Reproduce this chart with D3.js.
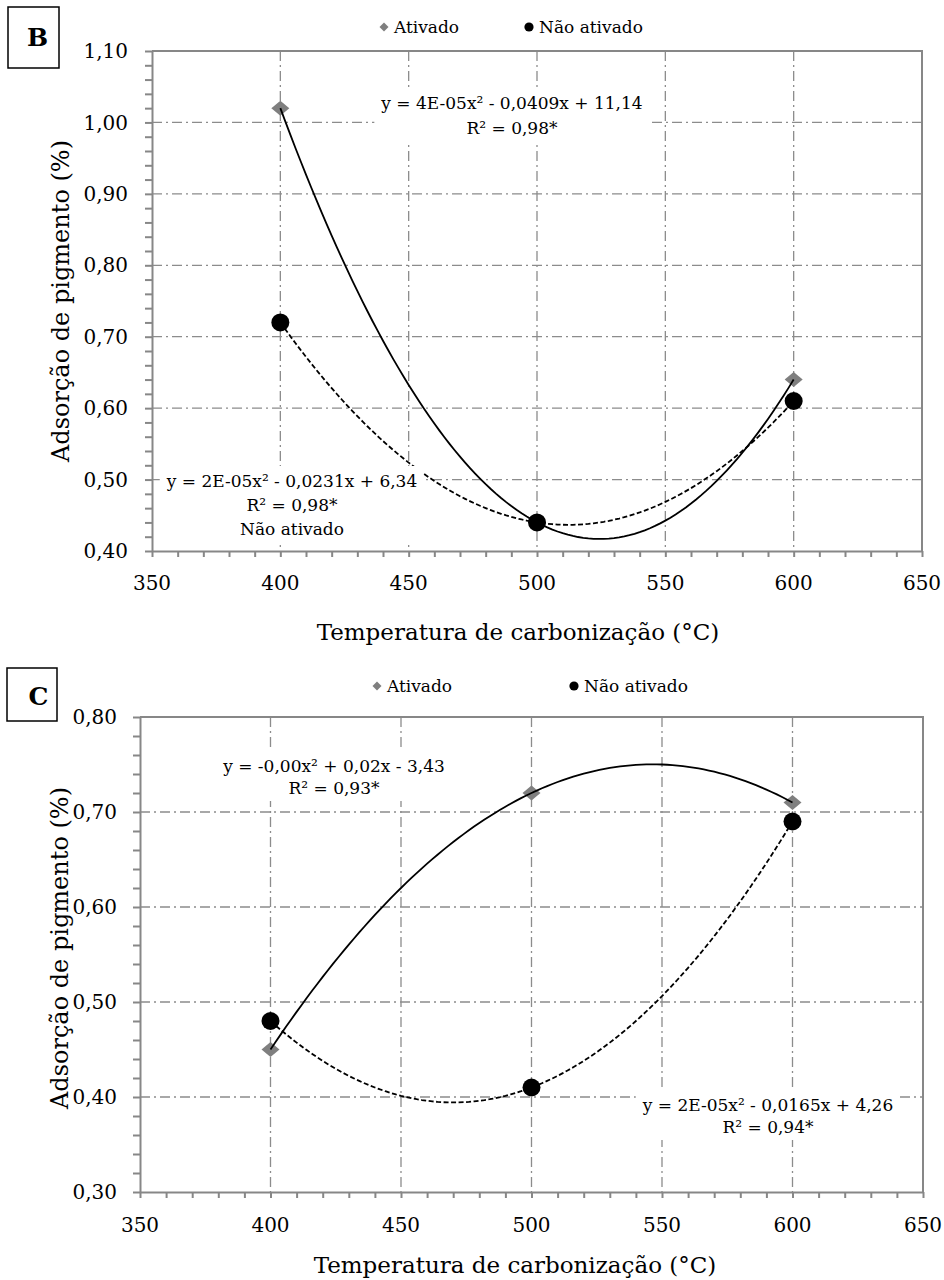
<!DOCTYPE html>
<html><head><meta charset="utf-8">
<script src="https://cdn.jsdelivr.net/npm/d3@7"></script>
<style>
body{margin:0;background:#fff}
svg{display:block}
</style>
</head><body><svg id="chart" width="944" height="1280"></svg>
<script>
// ---------- DATA ----------
const temperatures = [400, 500, 600];
const seriesNames = ["Ativado", "Não ativado"];
const panelB_ativado = [1.02, 0.44, 0.64];
const panelB_naoAtivado = [0.72, 0.44, 0.61];
const panelC_ativado = [0.45, 0.72, 0.71];
const panelC_naoAtivado = [0.48, 0.41, 0.69];
const xTickValues = [350, 400, 450, 500, 550, 600, 650];
const panelB_yTicks = [0.40, 0.50, 0.60, 0.70, 0.80, 0.90, 1.00, 1.10];
const panelC_yTicks = [0.30, 0.40, 0.50, 0.60, 0.70, 0.80];
const panelB_eqAtivado = ["y = 4E-05x² - 0,0409x + 11,14", "R² = 0,98*"];
const panelB_eqNao = ["y = 2E-05x² - 0,0231x + 6,34", "R² = 0,98*", "Não ativado"];
const panelC_eqAtivado = ["y = -0,00x² + 0,02x - 3,43", "R² = 0,93*"];
const panelC_eqNao = ["y = 2E-05x² - 0,0165x + 4,26", "R² = 0,94*"];
const xTitle = "Temperatura de carbonização (°C)";
const yTitle = "Adsorção de pigmento (%)";

// ---------- LAYOUT ----------
const panels = [
  {letter:"B", box:{x:8,y:7,w:51,h:61}, letterPos:{x:37.5,y:46},
   plot:{l:152,r:922,t:51,b:551}, yDomain:[0.4,1.1], yTicks:panelB_yTicks,
   ativado:panelB_ativado, nao:panelB_naoAtivado,
   legend:{y:27, dx:384, cx:529},
   eqA:{x:512,y:109,lh:25,lines:panelB_eqAtivado},
   eqN:{x:292,y:487,lh:24,lines:panelB_eqNao},
   xLabelY:590, yLabelX:128, xTitleY:640, xTitleX:518, yTitleX:69, yTitleY:301},
  {letter:"C", box:{x:7,y:668,w:50,h:53}, letterPos:{x:38.5,y:705},
   plot:{l:140,r:923,t:717,b:1192}, yDomain:[0.3,0.8], yTicks:panelC_yTicks,
   ativado:panelC_ativado, nao:panelC_naoAtivado,
   legend:{y:686, dx:377, cx:574},
   eqA:{x:334,y:772,lh:22,lines:panelC_eqAtivado},
   eqN:{x:768,y:1111,lh:22,lines:panelC_eqNao},
   xLabelY:1232, yLabelX:117, xTitleY:1273, xTitleX:515, yTitleX:68, yTitleY:948}
];

const FONT = '"DejaVu Serif", serif';
const SIZE = {letter:"25px", tick:"20px", xTitle:"23px", yTitle:"24px", legend:"17px", eq:"17px"};

const GRID = "#8c8c8c", AXIS = "#878787", DIAMOND = "#7f7f7f";
const svg = d3.select("#chart").style("font-family", FONT);
const fmtY = d => d3.format(".2f")(d).replace(".", ",");

// least-squares quadratic fit
function polyfit2(xs, ys){
  const S = k => d3.sum(xs, x => Math.pow(x, k));
  const T = k => d3.sum(xs, (x,i) => Math.pow(x, k)*ys[i]);
  const A = [[S(0),S(1),S(2),T(0)],[S(1),S(2),S(3),T(1)],[S(2),S(3),S(4),T(2)]];
  for(let i=0;i<3;i++){
    let p=i; for(let r=i+1;r<3;r++) if(Math.abs(A[r][i])>Math.abs(A[p][i])) p=r;
    [A[i],A[p]]=[A[p],A[i]];
    for(let r=0;r<3;r++){ if(r===i) continue; const f=A[r][i]/A[i][i]; for(let c=i;c<4;c++) A[r][c]-=f*A[i][c]; }
  }
  const c=[A[0][3]/A[0][0],A[1][3]/A[1][1],A[2][3]/A[2][2]];
  return x => c[0]+c[1]*x+c[2]*x*x;
}

function diamondPath(w,h){ return `M0,${-h/2}L${w/2},0L0,${h/2}L${-w/2},0Z`; }

panels.forEach(P => {
  const g = svg.append("g").style("font-family", FONT).attr("fill","#000");
  const x = d3.scaleLinear().domain([350,650]).range([P.plot.l, P.plot.r]);
  const y = d3.scaleLinear().domain(P.yDomain).range([P.plot.b, P.plot.t]);

  // letter box
  g.append("rect").attr("x",P.box.x).attr("y",P.box.y).attr("width",P.box.w).attr("height",P.box.h)
    .attr("fill","#fff").attr("stroke","#000").attr("stroke-width",1.5);
  g.append("text").attr("x",P.letterPos.x).attr("y",P.letterPos.y).attr("text-anchor","middle")
    .style("font-size",SIZE.letter).style("font-weight","bold").text(P.letter);

  // gridlines
  const grid = g.append("g").attr("stroke",GRID).attr("stroke-width",1.3).attr("stroke-dasharray","10,4,2,4").attr("fill","none");
  xTickValues.slice(1,-1).forEach(v => grid.append("line").attr("x1",x(v)).attr("x2",x(v)).attr("y1",P.plot.t).attr("y2",P.plot.b));
  P.yTicks.slice(1,-1).forEach(v => grid.append("line").attr("x1",P.plot.l).attr("x2",P.plot.r).attr("y1",y(v)).attr("y2",y(v)));

  // border (top/right)
  g.append("path").attr("d",`M${P.plot.l},${P.plot.t}H${P.plot.r}V${P.plot.b}`)
    .attr("fill","none").attr("stroke",AXIS).attr("stroke-width",2);

  // axes with minor ticks
  const xMinor = d3.range(350, 651, 10);
  const yMinor = d3.range(Math.round(P.yDomain[0]*50), Math.round(P.yDomain[1]*50)+1).map(k => k/50);
  const xa = g.append("g").attr("transform",`translate(0,${P.plot.b})`)
    .call(d3.axisBottom(x).tickValues(xMinor).tickSize(6).tickSizeOuter(0).tickFormat(""));
  const ya = g.append("g").attr("transform",`translate(${P.plot.l},0)`)
    .call(d3.axisLeft(y).tickValues(yMinor).tickSize(7).tickSizeOuter(0).tickFormat(""));
  [xa,ya].forEach(a => { a.selectAll("path,line").attr("stroke",AXIS).attr("stroke-width",2); });

  // tick labels
  g.append("g").selectAll("text").data(xTickValues).join("text")
    .attr("x",d=>x(d)).attr("y",P.xLabelY).attr("text-anchor","middle").style("font-size",SIZE.tick).text(d=>d);
  g.append("g").selectAll("text").data(P.yTicks).join("text")
    .attr("x",P.yLabelX).attr("y",d=>y(d)).attr("dy","0.36em").attr("text-anchor","end").style("font-size",SIZE.tick).text(fmtY);

  // axis titles
  g.append("text").attr("x",P.xTitleX).attr("y",P.xTitleY).attr("text-anchor","middle").style("font-size",SIZE.xTitle).text(xTitle);
  g.append("text").attr("transform",`translate(${P.yTitleX},${P.yTitleY}) rotate(-90)`).attr("text-anchor","middle").style("font-size",SIZE.yTitle).text(yTitle);

  // legend
  g.append("path").attr("d",diamondPath(9,9)).attr("transform",`translate(${P.legend.dx},${P.legend.y})`).attr("fill",DIAMOND);
  g.append("text").attr("x",P.legend.dx+10).attr("y",P.legend.y+6).style("font-size",SIZE.legend).text(seriesNames[0]);
  g.append("circle").attr("cx",P.legend.cx).attr("cy",P.legend.y).attr("r",4.6).attr("fill","#000");
  g.append("text").attr("x",P.legend.cx+10).attr("y",P.legend.y+6).style("font-size",SIZE.legend).text(seriesNames[1]);

  // markers
  const ptsA = temperatures.map((t,i)=>[t,P.ativado[i]]);
  const ptsN = temperatures.map((t,i)=>[t,P.nao[i]]);
  g.append("g").selectAll("path").data(ptsA).join("path").attr("d",diamondPath(18,15))
    .attr("transform",d=>`translate(${x(d[0])},${y(d[1])})`).attr("fill",DIAMOND);
  g.append("g").selectAll("circle").data(ptsN).join("circle")
    .attr("cx",d=>x(d[0])).attr("cy",d=>y(d[1])).attr("r",9).attr("fill","#000");

  // trendlines
  const fitA = polyfit2(temperatures, P.ativado);
  const fitN = polyfit2(temperatures, P.nao);
  const xs = d3.range(400, 600.01, 2);
  const line = d3.line().x(d=>x(d[0])).y(d=>y(d[1])).curve(d3.curveLinear);
  g.append("path").attr("d",line(xs.map(v=>[v,fitA(v)]))).attr("fill","none").attr("stroke","#000").attr("stroke-width",1.8);
  g.append("path").attr("d",line(xs.map(v=>[v,fitN(v)]))).attr("fill","none").attr("stroke","#000").attr("stroke-width",1.8).attr("stroke-dasharray","5,2.5");

  // equation labels with white background
  [P.eqA, P.eqN].forEach(E => {
    const lg = g.append("g");
    const bg = lg.append("rect").attr("fill","#fff");
    const t = lg.append("text").attr("text-anchor","middle").style("font-size",SIZE.eq);
    E.lines.forEach((s,i)=> t.append("tspan").attr("x",E.x).attr("y",E.y+i*E.lh).text(s));
    const bb = t.node().getBBox();
    bg.attr("x",bb.x-6).attr("y",bb.y-5).attr("width",bb.width+12).attr("height",bb.height+8);
  });
});
</script></body></html>
